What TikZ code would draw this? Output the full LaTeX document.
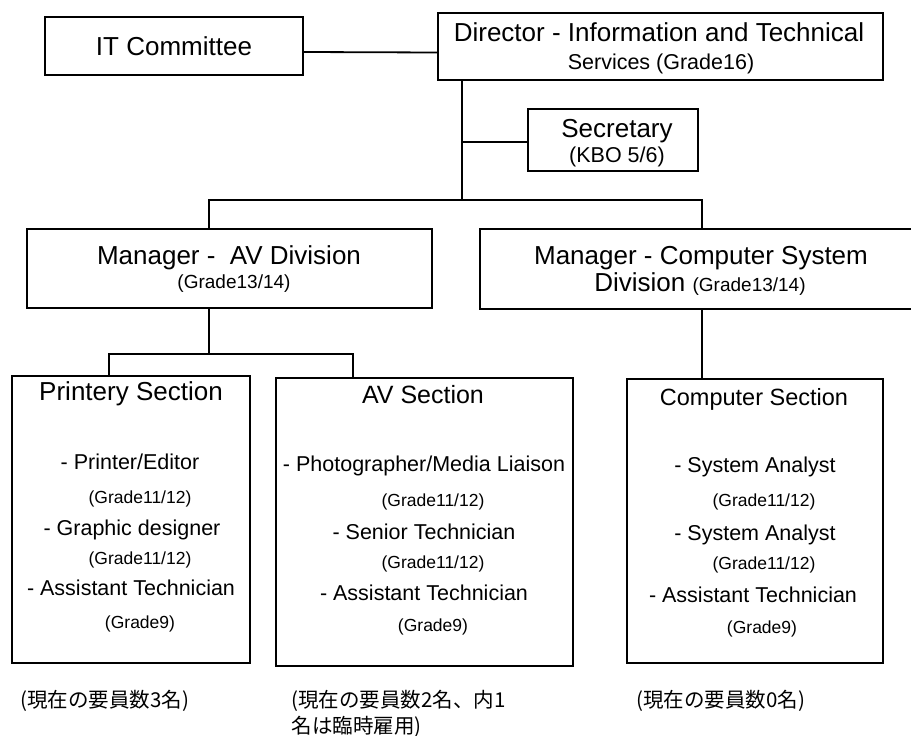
\documentclass[tikz,border=0pt]{standalone}
\usepackage{fontspec}
\setmainfont{Liberation Sans}
\newfontfamily\cjk{Noto Sans CJK JP}
\usetikzlibrary{positioning,calc}

\tikzset{
  box/.style={draw,line width=1.8pt,inner sep=0pt},
  link/.style={line width=1.8pt},
  big/.style={font=\fontsize{26}{30}\selectfont,text height=18.6pt,text depth=0pt},
  hd/.style={font=\fontsize{25}{30}\selectfont,text height=17.9pt,text depth=0pt},
  mid/.style={font=\fontsize{21.5}{25}\selectfont,text height=15.4pt,text depth=0pt},
  grd/.style={font=\fontsize{19}{22}\selectfont,text height=13.6pt,text depth=0pt},
  sml/.style={font=\fontsize{17.5}{20}\selectfont,text height=12.5pt,text depth=0pt},
  note/.style={font=\cjk\fontsize{20.5}{26}\selectfont,align=left,anchor=base west}
}

\begin{document}
\begin{tikzpicture}[x=1pt,y=-1pt]
\useasboundingbox (0,0) rectangle (911,736);

% top level
\node[box,big,minimum width=258,minimum height=58] (itc) at (174,46) {IT Committee};

\node[box,minimum width=445,minimum height=67] (dir) at (660.5,46.5) {};
\node[big] (dir1) at (659,32) {Director - Information and Technical};
\node[mid] (dir2) at (661,62) {Services (Grade16)};

\node[box,minimum width=170,minimum height=62] (sec) at (613,140) {};
\node[big] (sec1) at (617,128) {Secretary};
\node[mid] (sec2) at (617,155) {(KBO 5/6)};

% managers
\node[box,minimum width=405,minimum height=79] (mav) at (229.5,268.5) {};
\node[big] (mav1) at (229,255) {Manager -\ \ AV Division};
\node[grd] (mav2) at (234,282) {(Grade13/14)};

\node[box,minimum width=434,minimum height=80] (mcs) at (697,269) {};
\node[big] (mcs1) at (701,255) {Manager - Computer System};
\node[big] (mcs2) at (700,282) {Division {\fontsize{19}{22}\selectfont(Grade13/14)}};

% sections
\node[box,minimum width=238,minimum height=287] (prn) at (131,519.5) {};
\node[hd,font=\fontsize{26}{30}\selectfont] (prn0) at (131,392) {Printery Section};
\node[mid] (prn1) at (130,462) {- Printer/Editor};
\node[sml] (prn2) at (140,497) {(Grade11/12)};
\node[mid] (prn3) at (132,528) {- Graphic designer};
\node[sml] (prn4) at (140,558) {(Grade11/12)};
\node[mid] (prn5) at (131,588) {- Assistant Technician};
\node[sml] (prn6) at (140,622) {(Grade9)};

\node[box,minimum width=297,minimum height=288] (avs) at (424.5,522) {};
\node[hd] (avs0) at (423,395) {AV Section};
\node[mid] (avs1) at (424,464) {- Photographer/Media Liaison};
\node[sml] (avs2) at (433,500) {(Grade11/12)};
\node[mid] (avs3) at (424,532) {- Senior Technician};
\node[sml] (avs4) at (433,562) {(Grade11/12)};
\node[mid] (avs5) at (424,593) {- Assistant Technician};
\node[sml] (avs6) at (433,625) {(Grade9)};

\node[box,minimum width=256,minimum height=284] (cps) at (755,521) {};
\node[hd,font=\fontsize{23.5}{28}\selectfont] (cps0) at (754,397) {Computer Section};
\node[mid] (cps1) at (755,465) {- System Analyst};
\node[sml] (cps2) at (764,500) {(Grade11/12)};
\node[mid] (cps3) at (755,533) {- System Analyst};
\node[sml] (cps4) at (764,563) {(Grade11/12)};
\node[mid] (cps5) at (753,595) {- Assistant Technician};
\node[sml] (cps6) at (762,627) {(Grade9)};

% notes
\node[note] (n1) at (17,707) {(現在の要員数3名)};
\node[note] (n2) at (288,733) {(現在の要員数2名、内1\\名は臨時雇用)};
\node[note] (n3) at (633,707) {(現在の要員数0名)};

% connectors
\coordinate (trunk) at (462,200);
\coordinate (bl) at (209,200);
\coordinate (br) at (702,200);
\coordinate (ab) at (209,354);
\coordinate (pl) at (109,354);
\coordinate (pr) at (353,354);

\draw[link] ([yshift=-6pt]itc.east) -- ([yshift=-6pt]dir.west);
\draw[link] (dir.south -| trunk) -- (trunk);
\draw[link] ([yshift=-2pt]sec.west -| trunk) -- ([yshift=-2pt]sec.west);
\draw[link] (mav.north -| bl) -- (bl) -- (br) -- (mcs.north -| br);
\draw[link] (mav.south -| ab) -- (ab);
\draw[link] (prn.north -| pl) -- (pl) -- (pr) -- (avs.north -| pr);
\draw[link] (mcs.south -| br) -- (cps.north -| br);
\end{tikzpicture}
\end{document}
